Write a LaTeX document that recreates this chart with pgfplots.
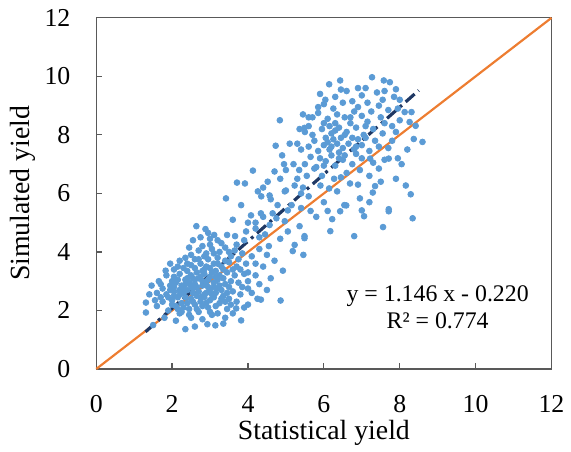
\documentclass[border=0pt]{standalone}
\usepackage{pgfplots}
\pgfplotsset{compat=1.18}
\usepackage{fontspec}
\setmainfont{Liberation Serif}
\definecolor{dotblue}{HTML}{5B9BD5}
\definecolor{oneline}{HTML}{ED7D31}
\definecolor{fitnavy}{HTML}{1F3864}
\definecolor{frame}{HTML}{595959}

\begin{document}
\begin{tikzpicture}
\begin{axis}[
    name=ax,
    width=229.5pt, height=177pt, scale only axis,
    xmin=0, xmax=12, ymin=0, ymax=12,
    xtick={0,2,...,12}, ytick={0,2,...,12},
    tick align=inside, xtick pos=bottom, ytick pos=left,
    major tick length=3pt,
    axis line style={draw=frame, line width=0.6pt},
    tick style={draw=frame, line width=0.6pt},
    font=\fontsize{13}{15}\selectfont,
    /pgf/number format/assume math mode=true,
    xticklabel style={yshift=-10pt},
    yticklabel style={xshift=-9.5pt},
    xlabel={Statistical yield}, ylabel={Simulated yield},
    label style={font=\fontsize{14}{16}\selectfont},
    x label style={at={(axis description cs:0.5,0)}, anchor=center, yshift=-32pt},
    y label style={at={(axis description cs:0,0.5)}, anchor=center, yshift=37pt},
    clip=false,
]
% observations
\addplot[only marks, mark=*, mark size=1.45pt, dotblue, mark options={draw=none, fill=dotblue}] coordinates {
% lower cluster
(1.9,2.0) (2.2,1.9) (2.45,2.05) (2.7,1.95) (2.95,2.1) (3.2,1.9) (3.45,2.05) (2.1,2.15) (2.6,2.2) (3.05,1.85)
(1.75,2.3) (2.0,2.35) (2.25,2.25) (2.5,2.4) (2.75,2.3) (3.0,2.35) (3.25,2.25) (3.5,2.4) (3.7,2.3) (2.35,2.45) (2.85,2.45) (3.35,2.5)
(1.6,2.6) (1.85,2.55) (2.05,2.65) (2.2,2.55) (2.4,2.7) (2.55,2.6) (2.7,2.65) (2.85,2.55) (3.0,2.7) (3.15,2.6) (3.3,2.7) (3.45,2.6)
(3.6,2.65) (3.8,2.55) (2.3,2.75) (2.65,2.8) (2.95,2.8) (3.25,2.85)
(1.7,2.9) (1.95,2.85) (2.1,2.95) (2.25,2.85) (2.45,2.95) (2.6,2.9) (2.8,3.0) (2.9,2.9) (3.1,2.95) (3.2,3.05) (3.4,2.9) (3.55,3.0)
(3.75,2.95) (2.35,3.05) (2.7,3.1) (3.0,3.15)
(1.85,3.2) (2.05,3.15) (2.2,3.25) (2.5,3.2) (2.65,3.3) (2.85,3.25) (3.05,3.3) (3.25,3.2) (3.45,3.3) (3.65,3.2) (3.9,3.25) (2.4,3.35)
(2.15,3.5) (2.4,3.6) (2.6,3.45) (2.75,3.6) (2.9,3.5) (3.1,3.6) (3.3,3.5) (3.5,3.65) (3.7,3.5) (2.95,3.75) (3.2,3.8) (3.55,3.85)
(2.5,3.9) (2.7,4.05) (2.9,3.95) (3.05,4.1) (3.25,4.0) (3.4,4.15) (3.65,4.05) (3.85,3.95) (2.8,4.2) (3.0,4.25) (3.3,4.3) (2.45,4.15)
(2.64,4.88) (2.88,4.78) (3.11,4.58) (3.45,4.58) (3.66,4.54) (2.75,4.5) (2.55,4.4) (3.0,4.45) (3.2,4.4) (3.9,4.4) (2.95,4.65)
(2.3,2.1) (2.55,2.3) (2.8,2.15) (3.1,2.45) (2.15,2.45) (2.5,2.85) (2.75,2.45) (3.1,2.8) (2.4,3.1) (2.6,3.05) (2.85,3.4) (3.15,3.35)
(2.0,3.0) (2.3,3.45) (2.7,3.75) (3.35,3.1) (3.6,3.4) (2.9,2.6) (2.65,2.5) (2.2,2.7) (3.4,2.3) (2.05,2.5)
(2.15,2.05) (2.4,2.25) (2.65,2.05) (2.9,2.25) (3.15,2.15) (3.3,2.4) (2.05,2.8) (2.3,2.6) (2.55,2.75) (2.8,2.85) (3.05,2.55)
(3.2,2.75) (3.5,2.8) (2.15,3.05) (2.35,2.9) (2.55,3.1) (2.75,3.15) (2.95,3.05) (3.15,3.15) (3.35,3.4) (2.5,3.55) (2.8,3.35)
(3.0,3.45) (3.2,3.6) (3.4,3.7) (2.6,3.75) (2.85,3.85) (3.1,3.95) (3.5,4.0) (3.75,3.75) (1.95,2.7) (1.7,2.45) (1.55,2.35)
(1.75,2.75) (2.0,2.2) (2.25,1.95) (2.45,1.85) (3.0,1.95) (3.55,2.2) (3.85,2.8) (4.0,3.3) (4.2,3.6) (3.8,3.4) (4.3,4.1)
(4.5,3.9) (3.7,4.25) (2.2,3.7) (2.05,3.4) (1.95,3.6) (2.35,3.8)
(1.31,2.27) (1.31,1.93) (1.46,2.85) (1.65,3.0) (1.83,3.36) (2.35,1.36) (3.82,1.66) (2.93,1.53) (3.14,1.49) (1.5,1.5)
(1.6,2.15) (1.8,1.75) (2.1,1.65) (2.5,1.75) (2.8,1.7) (3.4,1.75) (3.6,1.9) (2.6,1.45) (3.35,1.55) (1.4,2.55) (1.9,2.45)
(4.34,2.37) (4.86,2.34) (3.69,2.07) (4.0,2.2) (4.1,2.6) (4.3,2.9) (4.5,2.7) (4.2,3.2) (4.6,3.1) (4.0,3.0) (4.4,3.5)
(4.7,3.7) (3.95,3.6) (4.1,3.85) (4.92,3.36) (5.18,4.03) (5.46,3.9) (5.49,4.54) (4.55,4.2) (4.85,4.45) (4.0,2.75) (4.25,2.4) (3.9,2.1)
% transition
(3.42,5.83) (3.82,5.6) (4.26,6.07) (3.71,6.37) (3.92,6.34) (4.13,6.78) (4.0,5.0) (4.2,4.8) (4.4,5.2) (4.08,5.25) (4.34,5.32) (4.65,5.32)
(4.57,4.92) (4.97,5.05) (4.78,5.6) (4.97,6.07) (5.23,6.27) (5.3,6.5) (5.05,5.42) (5.49,4.47) (5.23,4.24) (5.36,4.88) (4.3,4.5)
(4.57,5.93) (4.52,6.4) (4.7,6.75) (5.4,5.5) (4.35,5.9) (5.05,4.7) (3.95,4.7) (5.0,6.8) (4.84,8.5) (4.73,7.63) (4.9,7.3) (5.3,7.7)
(5.36,8.2) (5.49,8.24) (5.2,7.0) (4.95,7.0) (5.1,7.7) (5.35,6.8) (5.55,6.6) (5.45,8.7)
(4.6,5.8) (4.85,6.5) (4.4,6.2) (5.15,5.6) (5.4,6.0) (4.2,5.0) (4.75,5.15) (5.0,6.1) (3.6,5.1) (4.45,4.6)
% upper cluster
(7.27,9.97) (6.43,9.86) (6.14,9.73) (7.58,9.86) (7.74,9.8) (7.9,9.56) (6.9,9.6) (6.6,9.5) (7.0,9.35) (7.4,9.45) (6.3,9.3) (5.9,9.4)
(7.55,9.2) (6.75,9.15) (7.15,9.1) (6.0,9.05) (6.04,9.2) (5.7,8.6) (7.85,9.3) (8.0,9.2)
(8.34,5.15) (8.29,5.97) (8.16,6.27) (8.6,7.76) (8.37,7.86) (8.42,8.31) (8.31,8.78) (8.13,8.78) (8.26,8.44) (8.0,8.5) (7.9,8.1)
(8.2,7.5) (7.95,7.2)
(6.8,4.54) (7.56,4.85) (6.17,4.71) (6.22,5.12) (7.71,5.46) (7.29,6.03) (7.06,5.22) (7.0,5.42) (6.59,5.59) (6.43,5.39) (5.8,5.2)
(6.0,5.7) (6.35,6.07) (6.95,5.83) (7.5,6.4) (5.6,5.9) (6.14,6.17) (5.91,6.27) (6.27,6.5) (6.69,6.34) (7.2,6.6) (5.75,6.85)
(7.45,6.85) (7.71,7.19) (7.22,7.19) (6.95,6.8) (6.54,5.6) (7.71,5.39)
(5.5,7.0) (5.8,6.9) (6.05,7.1) (6.3,6.95) (6.5,7.15) (6.75,7.0) (7.0,7.2) (7.3,7.05) (7.6,7.15) (5.65,7.25) (6.2,7.3) (6.85,7.35)
(5.4,7.5) (5.6,7.6) (5.85,7.45) (6.0,7.65) (6.15,7.5) (6.35,7.7) (6.5,7.55) (6.65,7.7) (6.8,7.5) (7.0,7.65) (7.2,7.45) (7.45,7.6)
(7.7,7.55) (6.25,7.85) (6.45,7.9) (6.05,7.9) (6.9,7.85)
(5.5,8.1) (5.7,8.0) (5.95,8.2) (6.2,8.05) (6.4,8.25) (6.6,8.1) (6.85,8.25) (7.05,8.0) (7.3,8.2) (7.55,8.05) (7.8,8.3) (6.0,8.4)
(6.7,8.4) (7.15,8.45)
(5.6,8.6) (5.85,8.75) (6.1,8.55) (6.35,8.7) (6.55,8.6) (6.8,8.8) (7.0,8.65) (7.25,8.8) (7.5,8.6) (7.7,8.85) (6.25,8.9) (6.9,8.95)
(7.45,9.0) (6.4,7.4) (6.1,7.75) (6.55,7.3) (6.3,8.4) (6.75,7.9) (7.1,7.9) (6.6,6.7) (5.95,6.6)
(6.2,7.6) (6.4,7.2) (6.55,8.0) (6.3,8.15) (6.15,8.3) (6.85,7.6) (6.7,8.6) (7.1,8.3) (7.35,7.8) (7.6,8.4) (5.9,7.2) (5.75,7.8)
(5.6,8.3) (6.0,6.95) (6.45,6.55) (6.9,6.3) (7.35,6.25) (5.45,6.2) (5.65,5.4) (6.1,5.4) (7.2,5.7) (7.9,6.5) (8.05,7.0) (7.8,7.8)
(6.5,9.1) (7.1,9.6) (7.6,9.5) (5.85,8.95) (6.45,9.55) (7.95,8.9)
};
% 1:1 line
\addplot[oneline, line width=1.1pt] coordinates {(0,0) (12,12)};
% fitted line
\addplot[fitnavy, line width=1.6pt, dash pattern=on 6pt off 2.5pt on 1.5pt off 2.5pt] coordinates {(1.3,1.270) (8.5,9.521)};
\node[align=center, font=\fontsize{12}{13.5}\selectfont] at (axis cs:9.0,2.1) {y = 1.146 x - 0.220\\R² = 0.774};
\end{axis}
\path ([shift={(-48.5pt,-37.5pt)}]ax.south west) rectangle ([shift={(7.5pt,9pt)}]ax.north east);
\end{tikzpicture}
\end{document}
